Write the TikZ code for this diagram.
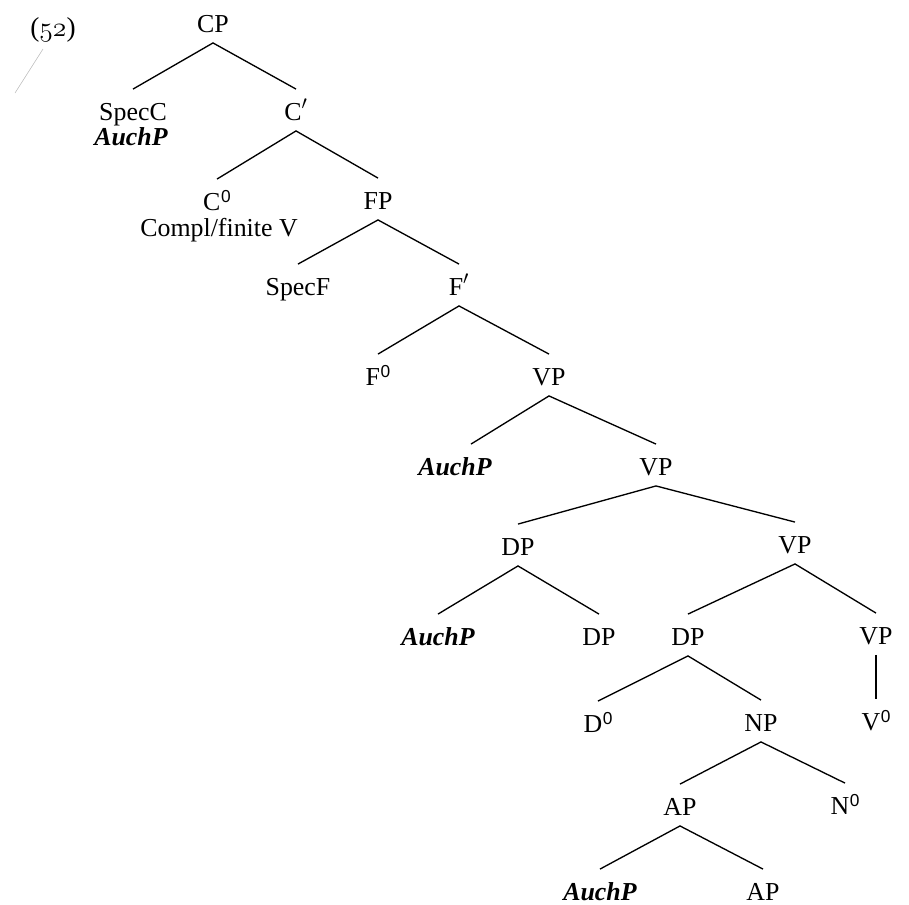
\documentclass[tikz,border=0pt]{standalone}
\usepackage{fontspec}
\setmainfont{Liberation Serif}
\newfontfamily\supfont{Liberation Sans}
\usetikzlibrary{positioning}
\newcommand{\zcat}[1]{#1\kern0.5pt\raisebox{5.5pt}{\supfont\fontsize{13}{14}\selectfont 0}}
\newcommand{\auch}{\textbf{\textit{AuchP}}}
\tikzset{
	cat/.style={anchor=base, inner sep=0pt, text height=23pt, text depth=8pt, font=\fontsize{19.4}{24}\selectfont},
	txt/.style={anchor=base, inner sep=0pt, font=\fontsize{19.4}{24}\selectfont},
	branch/.style={line width=1pt}
}
\begin{document}
\begin{tikzpicture}[x=0.75pt,y=-0.75pt]
		\useasboundingbox (0,0) rectangle (909,904);
		\node[txt, anchor=center, font=\fontsize{20.5}{24}\selectfont] (ex) at (53,30) {({\usefont{OML}{cmm}{m}{it}52})};
		\coordinate (s1) at (43,49);
		\coordinate (s2) at (15,93);
		\draw[gray!55, line width=0.4pt] (s1)--(s2);
		
		\node[cat] (cp) at (213,32) {CP};
		\node[cat] (specc) at (133,120) {SpecC};
		\node[txt] (auchc) at (131,145) {\auch};
		\node[cat] (cbar) at (296,120) {C$'$};
		\node[cat] (czero) at (217,210) {\zcat{C}};
		\node[txt] (compl) at (219,236) {Compl/finite V};
		\node[cat] (fp) at (378,209) {FP};
		\node[cat] (specf) at (298,295) {SpecF};
		\node[cat] (fbar) at (459,295) {F$'$};
		\node[cat] (fzero) at (378,385) {\zcat{F}};
		\node[cat] (vp1) at (549,385) {VP};
		\node[cat] (auch1) at (455,475) {\auch};
		\node[cat] (vp2) at (656,475) {VP};
		\node[cat] (dp1) at (518,555) {DP};
		\node[cat] (vp3) at (795,553) {VP};
		\node[cat] (auch2) at (438,645) {\auch};
		\node[cat] (dp2) at (599,645) {DP};
		\node[cat] (dp3) at (688,645) {DP};
		\node[cat] (vp4) at (876,644) {VP};
		\node[cat] (dzero) at (598,732) {\zcat{D}};
		\node[cat] (np) at (761,731) {NP};
		\node[cat] (vzero) at (876,730) {\zcat{V}};
		\node[cat] (ap1) at (680,815) {AP};
		\node[cat] (nzero) at (845,814) {\zcat{N}};
		\node[cat] (auch3) at (600,900) {\auch};
		\node[cat] (ap2) at (763,900) {AP};
		
		\draw[branch] (specc.north)--(cp.south)--(cbar.north);
		\draw[branch] (czero.north)--(cbar.south)--(fp.north);
		\draw[branch] (specf.north)--(fp.south)--(fbar.north);
		\draw[branch] (fzero.north)--(fbar.south)--(vp1.north);
		\draw[branch] ([xshift=12pt]auch1.north)--(vp1.south)--(vp2.north);
		\draw[branch] (dp1.north)--(vp2.south)--(vp3.north);
		\draw[branch] (auch2.north)--(dp1.south)--(dp2.north);
		\draw[branch] (dp3.north)--(vp3.south)--(vp4.north);
		\draw[branch] (dzero.north)--(dp3.south)--(np.north);
		\draw[branch] (vp4.south)--(vzero.north);
		\draw[branch] (ap1.north)--(np.south)--(nzero.north);
		\draw[branch] (auch3.north)--(ap1.south)--(ap2.north);
	\end{tikzpicture}
\end{document}
